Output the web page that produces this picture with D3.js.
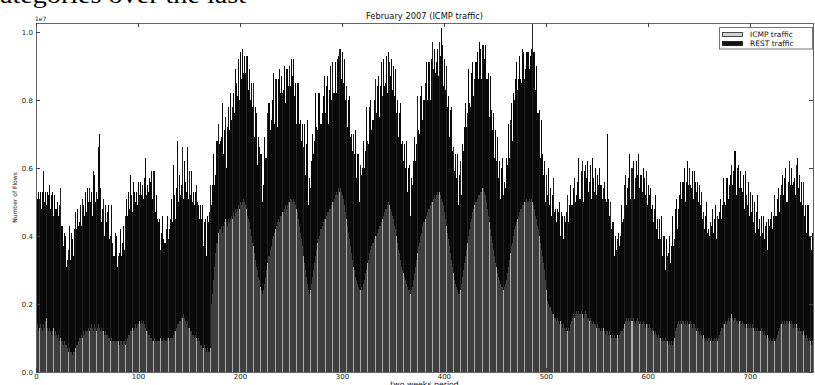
<!DOCTYPE html>
<html>
<head>
<meta charset="utf-8">
<script src="https://cdn.jsdelivr.net/npm/d3@7"></script>
<style>
  body { margin: 0; background: #fff; }
  svg { display: block; }
  text { font-family: "DejaVu Sans", sans-serif; }
</style>
</head>
<body>
<svg id="chart" width="815" height="385"></svg>
<script>
// Flow counts per slot, in units of 100,000 flows
const UNIT = 1e5;

const icmp = [
  13,14,12,13,14,13,12,14,13,15, 16,13,12,13,12,11,12,13,11,12,
  11,10,11,9,10,9,8,9,8,8, 7,6,7,6,6,5,6,6,7,8,
  8,9,10,10,11,10,12,11,12,12, 12,13,12,13,14,13,12,14,13,12,
  13,14,13,12,13,12,12,11,12,11, 11,10,10,9,10,9,9,9,9,9,
  9,8,9,9,8,9,9,8,9,10, 11,11,12,12,13,12,13,14,13,14,
  14,15,14,15,14,15,14,13,12,12, 11,11,10,10,9,9,10,9,9,9,
  9,9,10,9,9,10,9,9,10,10, 9,10,10,10,11,12,12,13,14,14,
  15,15,16,16,17,16,15,14,15,13, 13,12,12,11,11,10,11,10,9,10,
  9,8,8,7,7,8,7,6,7,6, 6,7,20,23,27,31,35,38,41,42,
  42,43,41,43,44,45,44,43,45,44, 45,46,45,47,46,48,47,48,49,48,
  50,49,50,51,50,49,48,46,45,44, 42,40,38,37,35,33,31,30,28,27,
  25,24,23,24,26,28,30,32,34,36, 37,39,40,41,42,43,44,45,44,46,
  46,47,47,48,49,48,49,50,50,51, 51,50,51,50,49,48,47,45,43,41,
  39,37,34,32,30,28,26,24,23,24, 26,28,30,32,34,36,38,39,40,42,
  43,44,45,45,46,47,47,48,48,49, 50,50,51,52,53,52,54,53,54,53,
  52,51,49,47,45,43,41,39,37,35, 33,31,30,28,27,26,25,24,24,25,
  24,26,27,29,30,32,33,35,36,37, 38,39,40,40,41,42,43,43,44,45,
  46,47,48,48,49,50,49,48,47,46, 45,43,42,40,38,36,35,33,31,30,
  29,28,27,26,25,24,24,23,24,25, 27,29,31,33,35,37,38,40,41,43,
  44,45,46,47,48,48,49,50,50,51, 52,51,52,53,52,53,52,51,50,49,
  47,45,43,41,39,37,35,33,31,29, 27,26,25,24,23,23,24,26,28,30,
  32,34,36,38,40,42,44,45,47,48, 49,50,51,52,52,53,53,54,54,53,
  52,50,48,46,44,42,40,38,36,34, 32,31,29,28,27,26,25,25,24,25,
  26,27,29,31,33,35,37,38,40,42, 43,44,45,46,47,48,48,49,49,50,
  50,51,50,51,50,51,50,49,48,46, 45,43,42,40,38,36,34,32,30,27,
  24,21,20,19,19,18,17,17,16,16, 15,16,15,14,15,14,13,14,13,12,
  13,12,13,12,14,15,16,17,16,17, 18,17,18,17,18,17,16,17,18,17,
  16,16,15,16,15,14,15,14,14,13, 14,13,13,12,13,12,13,12,11,12,
  12,11,12,11,10,11,10,11,10,10, 11,10,11,12,12,12,13,14,15,16,
  15,16,15,16,15,16,15,14,15,16, 15,14,15,14,14,15,14,13,14,14,
  13,14,13,12,13,12,11,12,11,10, 11,10,10,9,10,9,9,10,9,9,
  8,9,8,9,8,9,10,12,13,14, 15,14,15,14,15,14,15,14,15,14,
  14,15,14,13,14,14,13,12,13,12, 11,12,11,10,11,10,9,10,9,10,
  10,9,10,9,9,10,9,10,9,10, 11,12,13,13,14,14,15,14,15,16,
  15,16,17,16,15,16,15,15,14,15, 15,14,15,14,14,13,14,13,14,13,
  14,13,14,13,12,13,12,13,12,12, 12,13,12,11,12,11,10,11,10,9,
  10,9,9,10,9,9,10,11,12,13, 14,14,15,14,15,14,15,14,15,14,
  15,14,13,14,13,14,13,12,13,12, 12,11,12,11,10,11,10,9,10,9,8,9
];

const rest = [
  40,37,41,38,39,35,41,45,37,38, 33,40,40,42,36,41,41,33,41,36,
  37,40,35,40,44,34,29,32,32,23, 26,30,36,27,35,34,28,36,40,34,
  40,34,34,39,32,41,37,35,41,35, 42,37,42,37,39,33,47,44,37,41,
  38,52,57,42,31,36,39,29,37,33, 36,39,29,31,39,29,25,32,31,22,
  25,27,33,25,30,34,27,38,42,36, 42,37,46,40,34,44,40,36,40,35,
  42,37,42,37,41,36,43,50,40,43, 42,46,46,49,42,50,49,38,43,36,
  35,36,26,32,37,29,29,33,36,29, 33,35,41,34,50,40,33,41,54,36,
  43,37,39,50,34,46,41,39,51,38, 46,40,47,39,42,39,42,45,41,39,
  36,41,37,42,30,36,38,28,39,38, 41,48,29,32,37,24,23,30,32,25,
  26,26,38,21,27,30,16,29,33,27, 37,28,33,35,30,41,38,33,43,32,
  44,37,45,37,43,39,45,47,38,45, 38,45,40,48,34,45,45,31,41,39,
  39,40,27,31,43,35,33,44,45,35, 37,41,48,32,44,43,28,41,45,36,
  41,35,36,42,30,41,40,34,40,33, 41,37,41,31,36,25,38,40,30,33,
  29,36,32,41,28,39,48,25,34,30, 36,42,34,36,48,36,33,43,42,31,
  33,37,42,31,38,40,26,35,42,31, 41,32,31,39,29,40,39,42,41,33,
  42,34,43,33,39,29,39,42,32,35, 32,39,34,43,30,38,39,26,37,33,
  36,42,33,36,48,36,34,43,44,34, 36,41,46,36,43,45,32,41,47,36,
  46,37,37,45,33,44,42,39,45,37, 45,38,47,36,42,33,41,46,36,38,
  33,39,33,42,28,36,37,23,33,30, 35,40,31,34,46,34,32,41,43,31,
  36,40,45,33,43,43,31,42,47,38, 43,37,39,42,35,44,41,50,46,35,
  45,38,47,37,42,32,42,45,34,37, 32,38,32,40,26,35,38,26,39,35,
  40,45,36,38,49,37,34,43,44,33, 37,41,43,34,45,42,33,42,42,39,
  44,36,38,42,31,45,37,33,40,29, 39,31,40,29,35,25,35,38,28,31,
  28,36,32,42,30,39,42,30,42,38, 43,47,38,40,46,38,37,46,45,36,
  39,43,44,38,43,44,52.6,45,46,37, 45,33,34,37,25,38,30,26,32,23,
  34,31,40,30,35,28,35,40,31,32, 29,32,32,36,25,33,33,25,33,32,
  34,40,31,37,41,34,33,37,41,33, 34,39,45,34,41,45,34,42,43,40,
  46,37,41,45,36,49,42,39,46,39, 44,42,47,43,42,39,41,44,40,38,
  58,40,34,39,32,33,34,23,30,26, 28,31,26,28,37,32,32,41,43,33,
  39,41,49,35,45,46,36,43,47,42, 49,40,43,44,39,45,43,39,45,35,
  42,38,41,36,36,32,37,40,31,35, 28,35,29,37,24,31,31,20,30,25,
  27,31,24,28,38,28,29,36,38,28, 33,38,41,37,41,46,35,42,47,41,
  46,40,40,46,37,45,43,41,43,38, 44,37,42,35,36,32,37,40,32,32,
  30,35,33,39,32,35,40,29,37,35, 36,39,32,36,43,36,34,43,42,35,
  40,42,44,39,44,49,37,45,47,39, 44,40,38,44,34,46,38,36,42,33,
  39,34,38,31,38,28,35,39,30,33, 28,33,29,35,27,32,34,25,35,34,
  35,38,33,36,43,37,36,40,42,34, 38,41,43,38,42,46,35,42,47,41,
  45,41,43,43,39,47,50,42,45,38, 44,38,44,35,39,30,39,40,30,31,28,32
];

const seriesNames = ["ICMP traffic", "REST traffic"];
const xTicks = [0, 100, 200, 300, 400, 500, 600, 700];
const xTickLabels = ["0", "100", "200", "300", "400", "500", "600", "700"];
const yTicks = [0, 2e6, 4e6, 6e6, 8e6, 1e7];
const yTickLabels = ["0.0", "0.2", "0.4", "0.6", "0.8", "1.0"];

const margin = { left: 36, right: 813, top: 23, bottom: 372 };
const svg = d3.select("#chart");

// page heading running above the figure
svg.append("text")
  .attr("x", 0).attr("y", 3)
  .attr("textLength", 246).attr("lengthAdjust", "spacingAndGlyphs")
  .style("font-family", "'Liberation Serif', serif")
  .style("font-size", "24px")
  .attr("fill", "#000")
  .text("ategories over the last");

const n = icmp.length;
const totals = icmp.map((v, i) => (v + rest[i]) * UNIT);

const x = d3.scaleLinear().domain([0, n]).range([margin.left, margin.right]);
const y = d3.scaleLinear().domain([0, d3.max(totals)]).range([margin.bottom, margin.top]);

// bars: dark outlines, with the lighter face showing through every seventh slot
const faceEvery = 7;
const showsFace = i => i % faceEvery === 3;
const colors = {
  icmp: { edge: "#3e3e3e", face: "#acacac" },
  rest: { edge: "#090909", face: "#222222" }
};

const bars = svg.append("g").attr("shape-rendering", "crispEdges");

bars.selectAll("rect.icmp").data(icmp).join("rect")
  .attr("class", "icmp")
  .attr("x", (d, i) => x(i))
  .attr("width", (d, i) => x(i + 1) - x(i))
  .attr("y", d => y(d * UNIT))
  .attr("height", d => y(0) - y(d * UNIT))
  .attr("fill", (d, i) => showsFace(i) ? colors.icmp.face : colors.icmp.edge);

bars.selectAll("rect.rest").data(rest).join("rect")
  .attr("class", "rest")
  .attr("x", (d, i) => x(i))
  .attr("width", (d, i) => x(i + 1) - x(i))
  .attr("y", (d, i) => y((icmp[i] + d) * UNIT))
  .attr("height", (d, i) => y(icmp[i] * UNIT) - y((icmp[i] + d) * UNIT))
  .attr("fill", (d, i) => showsFace(i) ? colors.rest.face : colors.rest.edge);

// frame
svg.append("rect")
  .attr("x", margin.left).attr("y", margin.top)
  .attr("width", margin.right - margin.left)
  .attr("height", margin.bottom - margin.top)
  .attr("fill", "none").attr("stroke", "#666").attr("stroke-width", 1)
  .attr("shape-rendering", "crispEdges");

// axes with inward ticks on all four sides
function styleAxis(g) {
  g.select(".domain").remove();
  g.selectAll(".tick line").attr("stroke", "#444").attr("shape-rendering", "crispEdges");
  g.selectAll(".tick text").attr("fill", "#222").style("font-size", "7px");
}

svg.append("g")
  .attr("transform", `translate(0,${margin.bottom})`)
  .call(d3.axisBottom(x).tickValues(xTicks).tickFormat((d, i) => xTickLabels[i])
    .tickSizeInner(-4).tickSizeOuter(0).tickPadding(2.2))
  .call(styleAxis);

svg.append("g")
  .attr("transform", `translate(0,${margin.top})`)
  .call(d3.axisTop(x).tickValues(xTicks).tickFormat("")
    .tickSizeInner(-4).tickSizeOuter(0))
  .call(styleAxis);

svg.append("g")
  .attr("transform", `translate(${margin.left},0)`)
  .call(d3.axisLeft(y).tickValues(yTicks).tickFormat((d, i) => yTickLabels[i])
    .tickSizeInner(-4).tickSizeOuter(0).tickPadding(3))
  .call(styleAxis);

svg.append("g")
  .attr("transform", `translate(${margin.right},0)`)
  .call(d3.axisRight(y).tickValues(yTicks).tickFormat("")
    .tickSizeInner(-4).tickSizeOuter(0))
  .call(styleAxis);

// axis offset, title and labels
svg.append("text")
  .attr("x", 35).attr("y", 21)
  .style("font-size", "6px").attr("fill", "#222")
  .text("1e7");

svg.append("text")
  .attr("x", (margin.left + margin.right) / 2).attr("y", 19)
  .attr("text-anchor", "middle")
  .style("font-size", "8.3px").attr("fill", "#111")
  .text("February 2007 (ICMP traffic)");

svg.append("text")
  .attr("x", (margin.left + margin.right) / 2).attr("y", 386.6)
  .attr("text-anchor", "middle")
  .style("font-size", "7.8px").attr("fill", "#111")
  .text("two weeks period");

svg.append("text")
  .attr("transform", `translate(17,${(margin.top + margin.bottom) / 2}) rotate(-90)`)
  .attr("text-anchor", "middle")
  .style("font-size", "6px").attr("fill", "#222")
  .text("Number of Flows");

// legend
const legend = svg.append("g");
legend.append("rect")
  .attr("x", 719.5).attr("y", 27.5).attr("width", 93).attr("height", 21.5)
  .attr("fill", "#fff").attr("stroke", "#777").attr("stroke-width", 1);

const legendSwatches = [
  { fill: "#d3d3d3", stroke: "#222" },
  { fill: "#111111", stroke: "#111" }
];
seriesNames.forEach((name, k) => {
  legend.append("rect")
    .attr("x", 722.5).attr("y", 32.5 + k * 9).attr("width", 20).attr("height", 4)
    .attr("fill", legendSwatches[k].fill)
    .attr("stroke", legendSwatches[k].stroke).attr("stroke-width", 0.8);
  legend.append("text")
    .attr("x", 750).attr("y", 37.3 + k * 9)
    .style("font-size", "7.5px").attr("fill", "#111")
    .text(name);
});
</script>
</body>
</html>
